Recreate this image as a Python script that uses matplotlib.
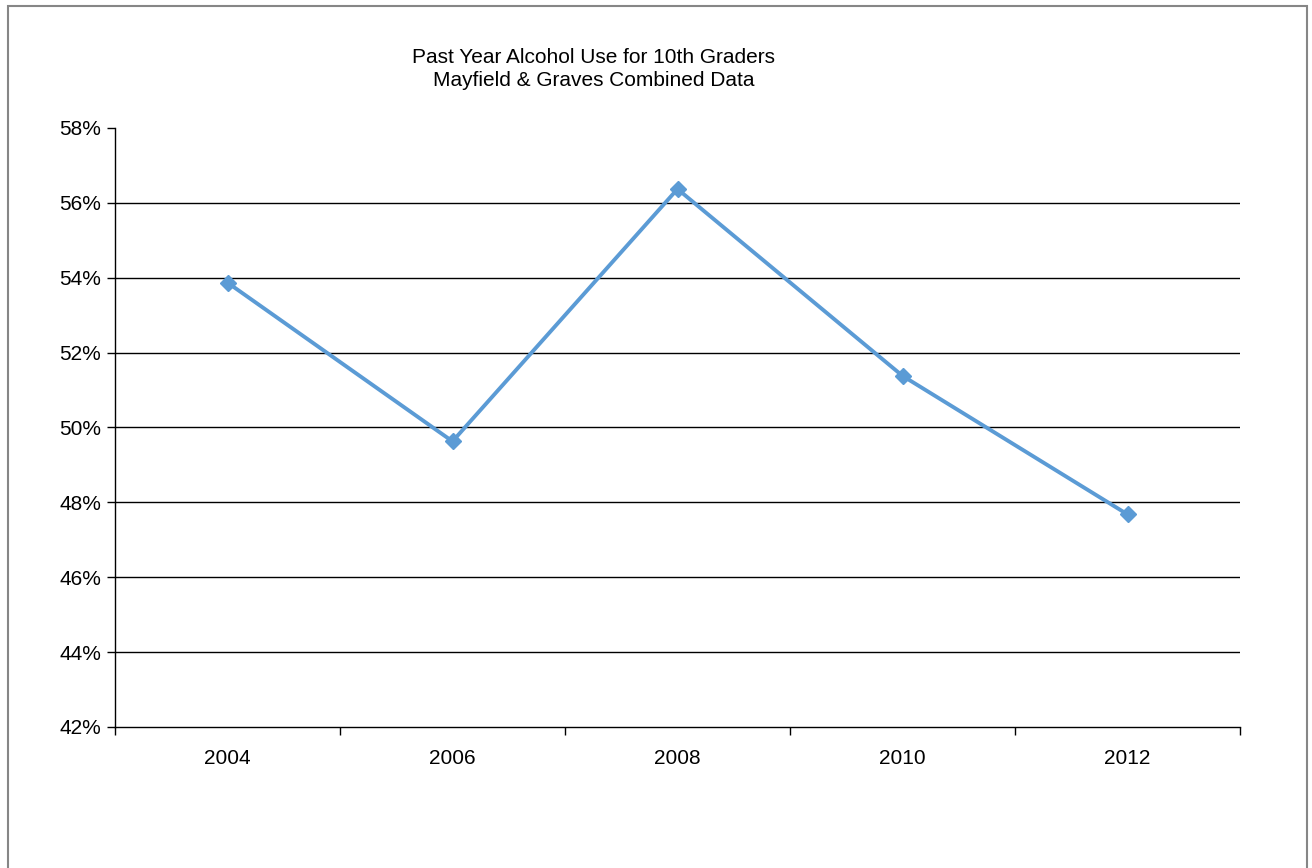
import matplotlib
matplotlib.use("Agg")
from matplotlib import pyplot as plt
from matplotlib.patches import Rectangle
from matplotlib.ticker import FixedLocator, PercentFormatter

# данные
years = ["2004", "2006", "2008", "2010", "2012"]
alcohol_use = [53.87, 49.63, 56.37, 51.38, 47.68]
y_ticks = [42, 44, 46, 48, 50, 52, 54, 56, 58]

plt.rcParams['font.family'] = ['Liberation Sans', 'DejaVu Sans']

fig = plt.figure(figsize=(13.12, 8.68), dpi=100)
ax = fig.add_axes([115 / 1312, 1 - 727 / 868, 1125 / 1312, 599 / 868])

# рамка вокруг всего рисунка
fig.patches.append(Rectangle((8 / 1312, -0.02), 1299 / 1312, 1 - 6 / 868 + 0.02,
                             transform=fig.transFigure, fill=False,
                             edgecolor='#868686', linewidth=1.5))

x = list(range(len(years)))
ax.plot(x, alcohol_use, '-D', color='#5B9BD5', linewidth=2.8,
        markersize=8.5, zorder=3, clip_on=False)

ax.set_xlim(-0.5, len(years) - 0.5)
ax.set_ylim(42, 58)
ax.set_yticks(y_ticks)
ax.yaxis.set_major_formatter(PercentFormatter(decimals=0))
for g in y_ticks[1:-1]:
    ax.axhline(g, color='black', linewidth=1, zorder=1)

ax.set_xticks(x)
ax.set_xticklabels(years)
ax.xaxis.set_minor_locator(FixedLocator([i - 0.5 for i in range(len(years) + 1)]))
ax.tick_params(axis='x', which='major', length=0, pad=16, labelsize=15)
ax.tick_params(axis='x', which='minor', length=6, width=1, direction='out')
ax.tick_params(axis='y', length=6, width=1, direction='out', pad=4, labelsize=15)

for s in ['top', 'right']:
    ax.spines[s].set_visible(False)
for s in ['left', 'bottom']:
    ax.spines[s].set_linewidth(1)
    ax.spines[s].set_color('black')

fig.text(594 / 1312, 1 - 69 / 868, "Past Year Alcohol Use for 10th Graders\nMayfield & Graves Combined Data",
         ha='center', va='center', fontsize=15, linespacing=1.3)

fig.savefig("out.png", dpi=100)
